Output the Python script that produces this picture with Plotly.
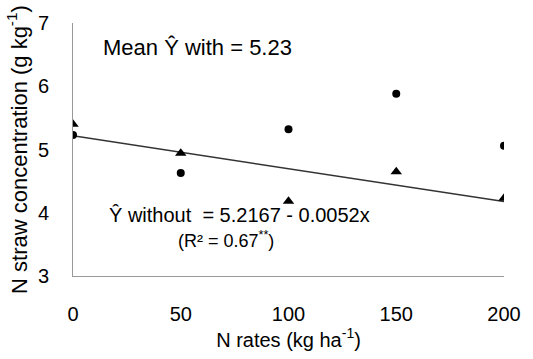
import plotly.graph_objects as go

# N rates (kg ha-1)
n_rates = [0, 50, 100, 150, 200]
# N straw concentration with inoculation (circles)
with_vals = [5.23, 4.63, 5.32, 5.88, 5.06]
# N straw concentration without inoculation (triangles)
without_vals = [5.40, 4.94, 4.18, 4.65, 4.23]
# Linear fit for the "without" series
intercept = 5.2167
slope = -0.0052
x_ticks = [0, 50, 100, 150, 200]
y_ticks = [3, 4, 5, 6, 7]

fit_y = [intercept + slope * x for x in n_rates]

FONT = "Liberation Sans, Arial, sans-serif"

fig = go.Figure()
fig.add_trace(go.Scatter(
    x=n_rates, y=fit_y, mode="lines",
    line=dict(color="#333333", width=1.5), showlegend=False, hoverinfo="skip"))
fig.add_trace(go.Scatter(
    x=n_rates, y=with_vals, mode="markers",
    marker=dict(symbol="circle", size=8, color="black"), showlegend=False))
fig.add_trace(go.Scatter(
    x=n_rates, y=without_vals, mode="markers",
    marker=dict(symbol="triangle-up", size=10, color="black"), showlegend=False))

fig.add_annotation(x=13, y=6.62, xref="x", yref="y", xanchor="left", yanchor="middle",
                   text="Mean Ŷ with = 5.23", showarrow=False,
                   font=dict(family=FONT, size=22, color="black"))
fig.add_annotation(x=16, y=3.97, xref="x", yref="y", xanchor="left", yanchor="middle",
                   text="Ŷ without  = 5.2167 - 0.0052x", showarrow=False,
                   font=dict(family=FONT, size=20, color="black"))
fig.add_annotation(x=48, y=3.57, xref="x", yref="y", xanchor="left", yanchor="middle",
                   text="(R² = 0.67<sup>**</sup>)", showarrow=False,
                   font=dict(family=FONT, size=18, color="black"))

fig.update_layout(
    width=533, height=359,
    margin=dict(l=73, r=16, t=20, b=79),
    paper_bgcolor="white", plot_bgcolor="white",
    font=dict(family=FONT, size=20, color="black"),
    xaxis=dict(range=[0, 200], tickvals=x_ticks, showgrid=False, zeroline=False,
               showline=True, linecolor="#999999", linewidth=1, ticks="",
               ticklabelstandoff=20, ticklabeloverflow="allow",
               tickfont=dict(family=FONT, size=20),
               title=dict(text="N rates (kg ha<sup>-1</sup>)", font=dict(family=FONT, size=20), standoff=8)),
    yaxis=dict(range=[3, 7], tickvals=y_ticks, showgrid=False, zeroline=False,
               showline=True, linecolor="#999999", linewidth=1, ticks="",
               ticklabelstandoff=19, tickfont=dict(family=FONT, size=20),
               title=dict(text="N straw concentration (g kg<sup>-1</sup>)", font=dict(family=FONT, size=22), standoff=4)),
)

fig.write_html("out.html")
